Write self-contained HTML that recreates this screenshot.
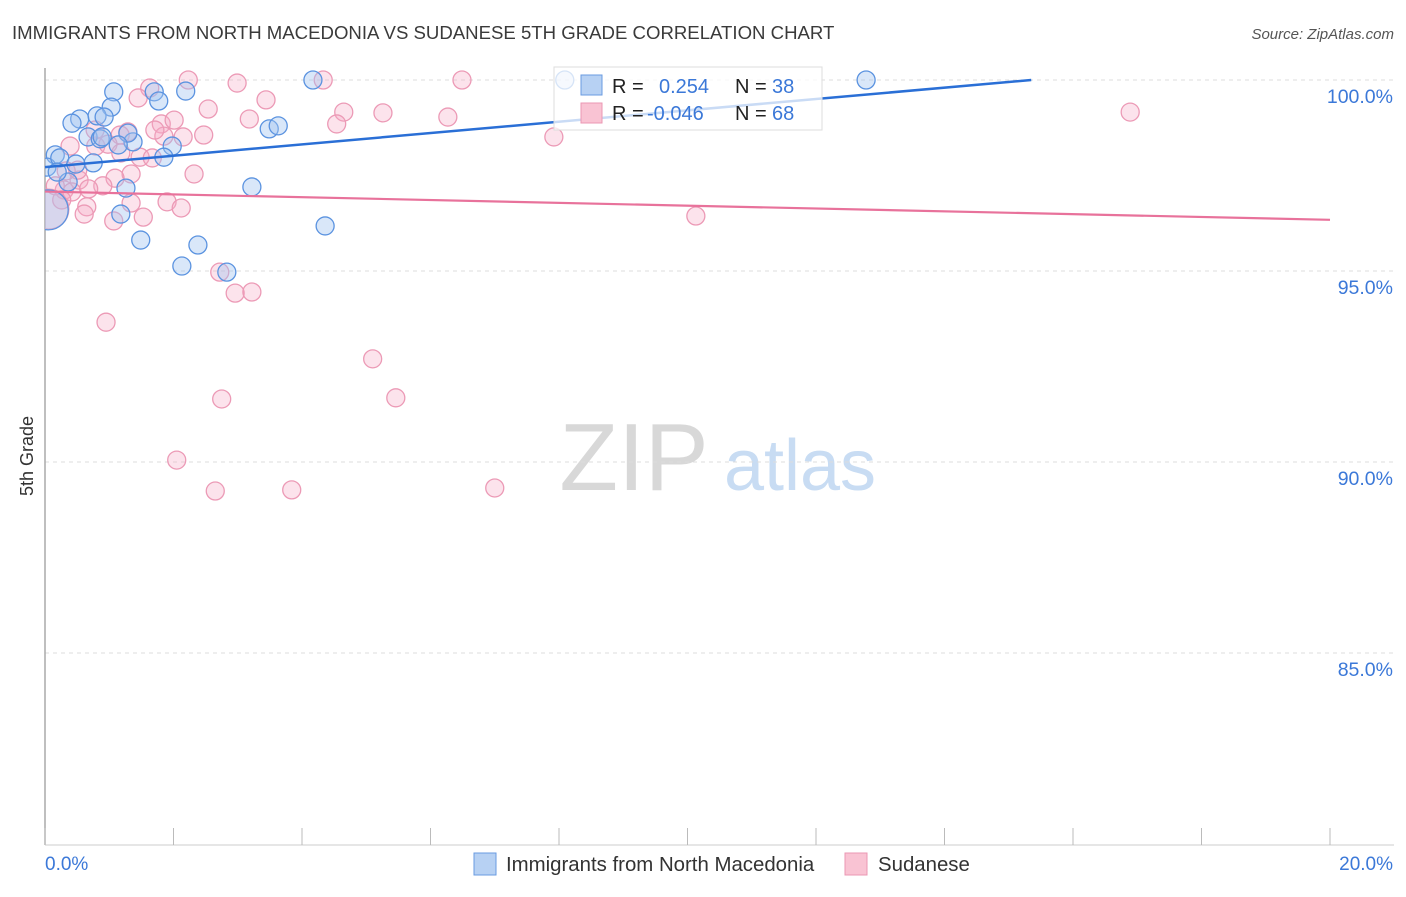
<!DOCTYPE html>
<html><head><meta charset="utf-8"><style>
body{margin:0;background:#fff;font-family:"Liberation Sans",sans-serif;}
svg text{font-family:"Liberation Sans",sans-serif;}
</style></head><body>
<svg id="chart" width="1406" height="892" viewBox="0 0 1406 892" xmlns="http://www.w3.org/2000/svg">
<defs><clipPath id="plotclip"><rect x="45" y="60" width="1360" height="785"/></clipPath></defs>
<text x="12" y="39" font-size="18.6" fill="#3a3a3a">IMMIGRANTS FROM NORTH MACEDONIA VS SUDANESE 5TH GRADE CORRELATION CHART</text>
<text x="1394" y="39" font-size="15" fill="#555" text-anchor="end" font-style="italic">Source: ZipAtlas.com</text>
<g>
<text x="634" y="490" font-size="96" fill="#d8d8d8" text-anchor="middle" font-family="Liberation Serif,serif">ZIP</text>
<text x="800" y="490" font-size="72" fill="#c8dcf3" text-anchor="middle">atlas</text>
</g>
<g id="grid"></g>
<line x1="45" y1="68" x2="45" y2="845" stroke="#aaa" stroke-width="1.5"/>
<line x1="45" y1="845" x2="1394" y2="845" stroke="#ccc" stroke-width="1"/>
<g id="xticks"></g>
<g id="points" clip-path="url(#plotclip)"></g>
<g id="lines"></g>
<g id="ylabels"></g>
<text transform="translate(33,456) rotate(-90)" font-size="18" fill="#333" text-anchor="middle">5th Grade</text>
<text x="45" y="870" font-size="19" fill="#3b78d8">0.0%</text>
<text x="1393" y="870" font-size="19" fill="#3b78d8" text-anchor="end">20.0%</text>
<g>
<rect x="554" y="67" width="268" height="63" fill="#fff" fill-opacity="0.75" stroke="#ddd"/>
<rect x="581" y="75" width="21" height="20" fill="#b7d1f3" stroke="#6a9be0"/>
<rect x="581" y="103" width="21" height="20" fill="#f9c3d3" stroke="#eb97b3"/>
<text x="612" y="93" font-size="20" fill="#222">R =</text>
<text x="659" y="93" font-size="20" fill="#3b78d8">0.254</text>
<text x="735" y="93" font-size="20" fill="#222">N =</text>
<text x="772" y="93" font-size="20" fill="#3b78d8">38</text>
<text x="612" y="120" font-size="20" fill="#222">R =</text>
<text x="647" y="120" font-size="20" fill="#3b78d8">-0.046</text>
<text x="735" y="120" font-size="20" fill="#222">N =</text>
<text x="772" y="120" font-size="20" fill="#3b78d8">68</text>
</g>
<g>
<rect x="474" y="853" width="22" height="22" fill="#b7d1f3" stroke="#6a9be0"/>
<text x="506" y="871" font-size="20.4" fill="#333">Immigrants from North Macedonia</text>
<rect x="845" y="853" width="22" height="22" fill="#f9c3d3" stroke="#eb97b3"/>
<text x="878" y="871" font-size="20.4" fill="#333">Sudanese</text>
</g>
</svg>
<script>
const blueX=[8.09,4.17,12.78,1.07,1.70,2.19,1.03,0.81,1.77,0.54,0.42,0.92,3.49,3.63,1.37,1.98,0.67,0.86,1.29,1.85,0.16,0.03,0.23,0.48,0.75,0.36,1.26,3.22,1.18,1.49,2.38,2.13,2.83,4.36,0.05,0.19,0.89,1.14];
const blueY=[100,100,100,99.69,99.69,99.71,99.29,99.06,99.45,98.98,98.87,99.03,98.72,98.80,98.38,98.27,98.51,98.46,98.61,97.98,98.04,97.72,97.96,97.80,97.83,97.33,97.17,97.20,96.49,95.81,95.68,95.13,94.97,96.18,96.60,97.59,98.51,98.30];
const blueBig=[34];
const pinkX=[2.23,2.99,4.33,6.49,1.63,1.45,2.54,3.44,4.65,5.26,6.27,3.18,4.54,1.81,2.01,2.47,2.15,1.29,1.17,0.79,0.39,0.98,1.18,1.48,1.67,1.85,16.89,7.92,2.32,1.34,1.09,0.90,0.53,0.30,0.16,0.42,0.68,0.26,1.90,2.12,1.34,0.65,0.61,1.07,1.53,10.13,2.72,2.96,3.22,0.95,5.10,2.75,5.46,2.05,2.65,3.84,7.00,0.06,0.33,0.51,0.78,1.71];
const pinkY=[100,99.92,100,100,99.79,99.53,99.24,99.48,99.16,99.14,99.03,98.98,98.85,98.85,98.95,98.56,98.51,98.64,98.56,98.27,98.27,98.32,98.09,97.98,97.96,98.53,99.16,98.51,97.54,97.54,97.43,97.23,97.38,97.12,97.23,97.07,97.15,96.86,96.81,96.65,96.78,96.68,96.49,96.31,96.41,96.44,94.97,94.42,94.45,93.66,92.70,91.65,91.68,90.05,89.24,89.27,89.32,96.62,97.62,97.64,98.69,98.69];
const pinkBig=[57];
const yTicks=[100,95,90,85];
const yTickLabels=["100.0%","95.0%","90.0%","85.0%"];
const xTicks=[0,2,4,6,8,10,12,14,16,18,20];
const blueTrend=[[0,97.72],[15.35,100]];
const pinkTrend=[[0,97.08],[20,96.34]];

const NS="http://www.w3.org/2000/svg";
const xs=v=>45+v*64.25;
const ys=v=>80+(100-v)*38.2;
function mk(tag,attrs,parent){const e=document.createElementNS(NS,tag);for(const k in attrs)e.setAttribute(k,attrs[k]);parent.appendChild(e);return e;}
const grid=document.getElementById('grid');
yTicks.forEach((t,i)=>{
  const l=mk('line',{x1:45,x2:1394,y1:ys(t),y2:ys(t),stroke:'#ddd','stroke-dasharray':'4,4'},grid);
  
  
  const tx=mk('text',{x:1393,y:ys(t)+23,'font-size':19.5,fill:'#3b78d8','text-anchor':'end'},document.getElementById('ylabels'));
  tx.textContent=yTickLabels[i];
  
  
});
xTicks.forEach(t=>{
  const l=mk('line',{x1:xs(t),x2:xs(t),y1:828,y2:845,stroke:'#bbb'},document.getElementById('xticks'));
  
  
});
const pts=document.getElementById('points');
pinkX.forEach((x,i)=>{
  const c=mk('circle',{cx:xs(x),cy:ys(pinkY[i]),r:pinkBig.includes(i)?20:9,fill:'rgba(246,170,196,0.33)',stroke:'#ec9ab6','stroke-width':1.3},pts);
  
  
});
blueX.forEach((x,i)=>{
  const c=mk('circle',{cx:xs(x),cy:ys(blueY[i]),r:blueBig.includes(i)?20:9,fill:'rgba(160,196,240,0.4)',stroke:'#5b93e0','stroke-width':1.3},pts);
  
  
});
const lines=document.getElementById('lines');
const bl=mk('line',{x1:xs(blueTrend[0][0]),y1:ys(blueTrend[0][1]),x2:xs(blueTrend[1][0]),y2:ys(blueTrend[1][1]),stroke:'#2a6fd6','stroke-width':2.5},lines);


const pl=mk('line',{x1:xs(pinkTrend[0][0]),y1:ys(pinkTrend[0][1]),x2:xs(pinkTrend[1][0]),y2:ys(pinkTrend[1][1]),stroke:'#e8729b','stroke-width':2.2},lines);


</script>
</body></html>
